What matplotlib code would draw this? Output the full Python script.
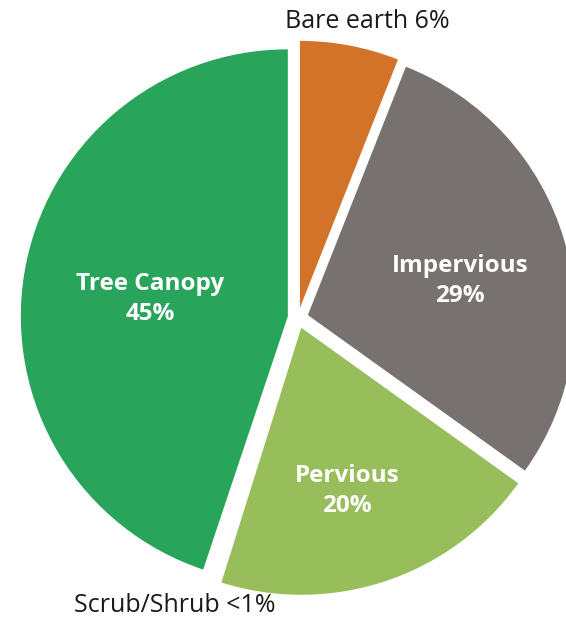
#!/usr/bin/env python3
"""Land cover share pie chart."""

import matplotlib

matplotlib.use("Agg")

import matplotlib.pyplot as plt

# data, clockwise from the top
categories = ["Bare earth", "Impervious", "Pervious", "Scrub/Shrub", "Tree Canopy"]
shares = [6, 29, 20, 0.3, 45]
share_labels = ["6%", "29%", "20%", "<1%", "45%"]
colors = ["#D3732A", "#77716F", "#98BD5B", "#FFFFFF", "#28A55B"]

W, H = 566, 622


def px(x, y):
    # pixel position (y down) -> data coords
    return x, H - y


def main() -> None:
    plt.rcParams["font.family"] = ["Open Sans", "DejaVu Sans"]

    fig = plt.figure(figsize=(W / 100, H / 100), dpi=100)
    ax = fig.add_axes([0, 0, 1, 1])

    # explode is in data units here (pixels), not a fraction of the radius
    ax.pie(
        shares,
        colors=colors,
        startangle=90,
        counterclock=False,
        explode=[10.3] * len(shares),
        radius=267,
        center=px(298, 318),
        wedgeprops={"linewidth": 0},
    )
    ax.set_xlim(0, W)
    ax.set_ylim(0, H)
    ax.set_aspect("equal")
    ax.axis("off")

    inside = {
        "Tree Canopy": (150, 299),
        "Impervious": (460, 281),
        "Pervious": (347, 491),
    }
    for name, (x, y) in inside.items():
        i = categories.index(name)
        ax.text(*px(x, y), f"{name}\n{share_labels[i]}", color="white",
                fontsize=17.5, fontweight="bold", ha="center", va="center",
                linespacing=1.3)

    outside = {
        "Bare earth": (367, 21),
        "Scrub/Shrub": (175, 605),
    }
    for name, (x, y) in outside.items():
        i = categories.index(name)
        ax.text(*px(x, y), f"{name} {share_labels[i]}", color="#1a1a1a",
                fontsize=18, ha="center", va="center")

    fig.savefig("out.png", dpi=100)
    plt.close(fig)


if __name__ == "__main__":
    main()
